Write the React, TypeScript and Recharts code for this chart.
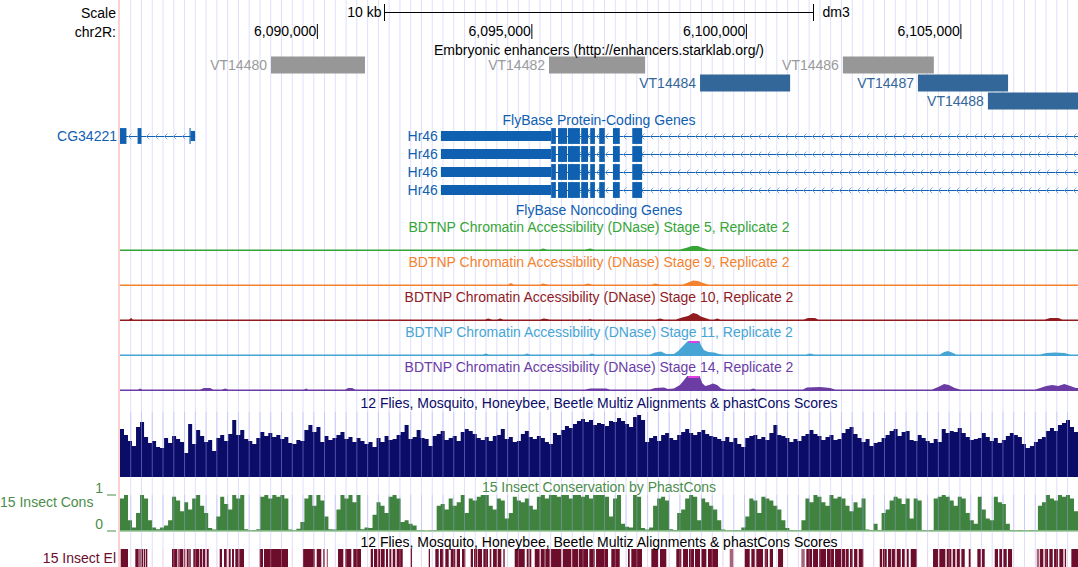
import {
  Area,
  AreaChart,
  ComposedChart,
  ReferenceArea,
  ReferenceLine,
  XAxis,
  YAxis,
} from "recharts";

// Browser window on chr2R (dm3), in base pairs
const WINDOW_START = 6085400;
const WINDOW_END = 6107730;
const WINDOW: [number, number] = [WINDOW_START, WINDOW_END];
const AXIS_DATA = [{ pos: WINDOW_START }, { pos: WINDOW_END }];

const RULER_TICKS = [6090000, 6095000, 6100000, 6105000];
const SCALE_BAR_BP = 10000;
const GRID_FIRST = 6085650;
const GRID_STEP = 251;

type Enhancer = { name: string; start: number; end: number; row: number; active: boolean };

const ENHANCERS: Enhancer[] = [
  { name: "VT14480", start: 6088920, end: 6091110, row: 0, active: false },
  { name: "VT14482", start: 6095400, end: 6097640, row: 0, active: false },
  { name: "VT14486", start: 6102250, end: 6104370, row: 0, active: false },
  { name: "VT14484", start: 6098920, end: 6101020, row: 1, active: true },
  { name: "VT14487", start: 6104000, end: 6106100, row: 1, active: true },
  { name: "VT14488", start: 6105630, end: 6107800, row: 2, active: true },
];

type Block = [number, number, "cds" | "utr"];

const CG34221_BLOCKS: Block[] = [
  [6085400, 6085550, "cds"],
  [6085810, 6085900, "cds"],
  [6087020, 6087045, "cds"],
  [6087045, 6087150, "utr"],
];

const HR46_BLOCKS: Block[] = [
  [6092880, 6095450, "utr"],
  [6095450, 6095560, "cds"],
  [6095610, 6095820, "cds"],
  [6095840, 6096120, "cds"],
  [6096150, 6096310, "cds"],
  [6096360, 6096470, "cds"],
  [6096570, 6096700, "cds"],
  [6096890, 6097050, "cds"],
  [6097340, 6097570, "cds"],
];

const GENES = [
  { name: "CG34221", row: 0, span: [6085400, 6087150], blocks: CG34221_BLOCKS },
  { name: "Hr46", row: 0, span: [6092880, 6108600], blocks: HR46_BLOCKS },
  { name: "Hr46", row: 1, span: [6092880, 6108600], blocks: HR46_BLOCKS },
  { name: "Hr46", row: 2, span: [6092880, 6108600], blocks: HR46_BLOCKS },
  { name: "Hr46", row: 3, span: [6092880, 6108600], blocks: HR46_BLOCKS },
];

// DNase signal, [position, coverage]
const STAGE5_SIGNAL: [number, number][] = [
  [6085400, 1.5], [6095190, 1.5], [6095260, 2.5], [6095350, 1.5], [6096240, 1.5],
  [6096360, 2.5], [6096450, 1.5], [6098450, 1.5], [6098590, 3], [6098730, 5],
  [6098870, 5], [6098990, 3], [6099110, 1.5], [6107730, 1.5],
];

const STAGE9_SIGNAL: [number, number][] = [
  [6085400, 1.5], [6094440, 1.5], [6094510, 3], [6094580, 1.5], [6095190, 1.5],
  [6095260, 2.5], [6095380, 1.5], [6096220, 1.5], [6096310, 2.5], [6096400, 1.5],
  [6097800, 1.5], [6097870, 2.5], [6097990, 1.5], [6098520, 1.5], [6098640, 3.5],
  [6098760, 5.5], [6098870, 5], [6098990, 3], [6099110, 1.5], [6107730, 1.5],
];

const STAGE10_SIGNAL: [number, number][] = [
  [6085400, 1.5], [6085610, 1.5], [6085660, 3], [6085700, 1.5], [6093910, 1.5],
  [6093980, 2.5], [6094070, 1.5], [6094190, 1.5], [6094260, 2.5], [6094330, 1.5],
  [6095190, 1.5], [6095280, 2.5], [6095420, 1.5], [6096310, 1.5], [6096360, 2],
  [6096400, 1.5], [6097890, 1.5], [6097990, 2.5], [6098080, 1.5], [6098360, 1.5],
  [6098500, 3.5], [6098640, 5], [6098760, 8], [6098850, 7], [6098940, 4.5],
  [6099040, 3], [6099150, 1.5], [6099250, 1.5], [6099320, 2.5], [6099390, 1.5],
  [6101340, 1.5], [6101440, 3], [6101600, 3], [6101670, 1.5], [6106960, 1.5],
  [6107080, 3], [6107270, 3], [6107360, 1.5], [6107730, 1.5],
];

const STAGE11_SIGNAL: [number, number][] = [
  [6085400, 1.5], [6093860, 1.5], [6093930, 2.5], [6094000, 1.5], [6094820, 1.5],
  [6094890, 2.5], [6094960, 1.5], [6096330, 1.5], [6096400, 2.5], [6096470, 1.5],
  [6097750, 1.5], [6097870, 3.5], [6098010, 4.5], [6098130, 2], [6098310, 2],
  [6098410, 5], [6098500, 9], [6098590, 13], [6098660, 16], [6098780, 17],
  [6098900, 16], [6098940, 11], [6099010, 6], [6099110, 4], [6099250, 3.5],
  [6099360, 2], [6099480, 1.5], [6101390, 1.5], [6101480, 2.5], [6101580, 1.5],
  [6104510, 1.5], [6104610, 4], [6104700, 5], [6104790, 3.5], [6104890, 1.5],
  [6106850, 1.5], [6106990, 3], [6107200, 3.5], [6107410, 3], [6107550, 1.5],
  [6107730, 1.5],
];

const STAGE14_SIGNAL: [number, number][] = [
  [6085400, 1.5], [6085820, 1.5], [6085870, 2.5], [6085910, 1.5], [6087270, 1.5],
  [6087360, 3], [6087500, 3], [6087570, 1.5], [6087780, 1.5], [6087850, 2.5],
  [6087920, 1.5], [6089690, 1.5], [6089740, 2.5], [6089780, 1.5], [6090650, 1.5],
  [6090720, 3], [6090810, 3], [6090880, 1.5], [6096240, 1.5], [6096360, 2.5],
  [6096730, 2.5], [6096820, 1.5], [6097750, 1.5], [6097870, 3], [6098080, 3.5],
  [6098170, 2], [6098310, 2.5], [6098450, 6], [6098550, 11], [6098640, 16],
  [6098710, 17], [6098830, 17], [6098900, 16], [6098970, 8], [6099040, 5],
  [6099130, 6], [6099220, 7.5], [6099320, 6], [6099410, 2.5], [6099530, 1.5],
  [6100090, 1.5], [6100160, 2.5], [6100230, 1.5], [6101320, 1.5], [6101410, 3.5],
  [6101720, 4], [6101950, 3], [6102070, 1.5], [6104330, 1.5], [6104470, 4],
  [6104610, 7], [6104720, 6], [6104860, 3], [6104980, 1.5], [6106730, 1.5],
  [6106850, 3], [6106990, 5], [6107130, 6], [6107270, 5], [6107410, 7],
  [6107550, 5], [6107680, 3], [6107730, 3],
];

// Multiz conservation, one value per ~93 bp bin across the window
const MULTIZ_SCORES = [
  48, 42, 36, 31, 50, 55, 40, 34, 36, 30, 29, 39, 34, 41, 38, 35, 24, 53, 33, 47,
  41, 35, 37, 26, 39, 42, 36, 43, 57, 42, 47, 38, 36, 33, 39, 45, 41, 44, 40, 42,
  38, 40, 34, 33, 37, 36, 47, 52, 45, 50, 35, 41, 37, 39, 42, 45, 38, 40, 35, 39,
  36, 33, 35, 30, 39, 35, 41, 37, 38, 42, 45, 52, 38, 40, 47, 39, 38, 31, 41, 43,
  46, 37, 39, 41, 36, 45, 48, 46, 43, 39, 37, 40, 36, 41, 42, 48, 38, 40, 35, 36,
  43, 46, 40, 38, 41, 39, 35, 33, 44, 42, 47, 51, 49, 53, 56, 58, 55, 57, 52, 54,
  53, 51, 56, 55, 59, 56, 53, 50, 60, 62, 57, 35, 39, 41, 36, 42, 44, 39, 37, 42,
  45, 48, 44, 42, 45, 47, 43, 41, 40, 38, 36, 40, 35, 39, 33, 30, 39, 41, 42, 38,
  40, 37, 44, 52, 42, 41, 39, 35, 38, 36, 41, 43, 47, 43, 41, 37, 40, 42, 37, 38,
  44, 48, 50, 43, 39, 35, 38, 31, 34, 35, 39, 42, 46, 48, 41, 45, 46, 37, 36, 42,
  39, 36, 34, 38, 35, 48, 44, 46, 45, 49, 44, 40, 37, 38, 39, 44, 40, 36, 39, 34,
  37, 41, 44, 42, 40, 33, 29, 31, 35, 38, 40, 46, 49, 46, 52, 54, 57, 50, 45, 44,
];
const MULTIZ_MAX = 65;

// phastCons scores (0-1), same bins as the multiz track
const PHASTCONS_SCORES = [
  0.9, 1, 0.3, 0.1, 0.5, 1, 0.9, 0.3, 0.1, 0.05, 0.1, 0.15, 0.3, 0.95, 0.85, 0.55, 0.8, 0.6, 0.9, 1,
  0.7, 0.5, 0.08, 0.04, 0.4, 0.95, 0.75, 0.6, 1, 0.9, 1, 0.05, 0.02, 0.03, 0.05, 0.95, 1, 0.9, 1, 0.95,
  1, 0.9, 0.04, 0.02, 0.06, 0.25, 0.9, 1, 0.7, 1, 0.85, 0.4, 0.05, 0.04, 0.6, 1, 0.9, 1, 0.8, 1,
  0.05, 0.1, 0.08, 0.45, 0.8, 0.7, 0.5, 0.95, 1, 0.9, 0.25, 0.3, 0.2, 0.15, 0.02, 0.02, 0.01, 0.02, 0.02, 0.7,
  0.75, 0.6, 0.9, 0.7, 0.8, 1, 0.5, 0.9, 0.85, 0.95, 1, 1, 0.7, 0.6, 0.9, 0.85, 0.35, 0.5, 0.95, 0.85,
  0.8, 0.9, 0.7, 0.6, 0.95, 1, 0.9, 1, 1, 0.95, 1, 1, 0.9, 1, 1, 0.95, 1, 0.9, 1, 1,
  1, 0.95, 0.4, 0.9, 1, 0.2, 0.12, 0.1, 1, 0.95, 0.08, 0.04, 0.1, 0.7, 0.9, 0.95, 0.85, 0.05, 0.03, 0.5,
  0.6, 0.9, 1, 0.95, 0.3, 0.9, 0.8, 0.7, 0.6, 0.3, 0.04, 0.02, 0.02, 0.03, 0.02, 0.1, 0.4, 0.9, 0.85, 0.5,
  0.95, 0.9, 0.85, 0.7, 0.6, 0.3, 0.08, 0.03, 0.02, 0.02, 0.3, 0.9, 0.8, 1, 0.95, 0.8, 0.7, 1, 0.9, 0.95,
  0.9, 0.7, 0.55, 0.8, 0.65, 0.9, 0.04, 0.03, 0.2, 0.03, 0.5, 0.6, 0.85, 0.95, 0.9, 0.75, 0.9, 0.35, 0.9, 0.85,
  0.03, 0.02, 0.03, 0.9, 0.95, 1, 0.95, 0.85, 0.7, 0.95, 0.9, 0.5, 0.3, 0.2, 0.95, 0.6, 0.35, 0.3, 0.95, 0.8,
  0.75, 0.2, 0.03, 0.02, 0.03, 0.02, 0.02, 0.03, 0.02, 0.7, 0.8, 1, 0.9, 0.85, 1, 0.95, 1, 0.9, 0.55, 0.7,
];

// Conserved elements, [start, end]
const CONSERVED_ELEMENTS: [number, number][] = [
  [6085416, 6085586], [6085757, 6085836], [6085897, 6085943], [6085959, 6085990], [6086006, 6086036],
  [6086612, 6086736], [6086782, 6086876], [6086892, 6086922], [6086955, 6087001], [6087015, 6087048],
  [6087109, 6087249], [6087265, 6087311], [6087328, 6087388], [6087421, 6087468], [6087724, 6087778],
  [6087824, 6087887], [6087934, 6087980], [6088011, 6088057], [6088088, 6088167], [6088181, 6088290],
  [6088656, 6088733], [6088757, 6089316], [6089666, 6089938], [6089985, 6090092], [6090139, 6090172],
  [6090482, 6090605], [6090652, 6090792], [6090838, 6091018], [6091244, 6091297], [6091321, 6091398],
  [6091414, 6091461], [6091477, 6091570], [6091600, 6091647], [6091677, 6091724], [6091757, 6091817],
  [6091850, 6091990], [6092176, 6092207], [6092596, 6092626], [6092750, 6092829], [6092859, 6092936],
  [6092983, 6093062], [6093109, 6093216], [6093249, 6093325], [6093372, 6093449], [6093575, 6093628],
  [6093652, 6093729], [6093745, 6093838], [6093869, 6093978], [6094018, 6094055], [6094095, 6094195],
  [6094211, 6094288], [6094335, 6094367], [6094600, 6094834], [6094880, 6094927], [6094941, 6094987],
  [6095067, 6095183], [6095207, 6095300], [6095314, 6095416], [6095440, 6095687], [6095720, 6095920],
  [6095936, 6096076], [6096092, 6096309], [6096340, 6096465], [6096496, 6096775], [6096852, 6097048],
  [6097241, 6097281], [6097318, 6097568], [6097785, 6097941], [6097987, 6098134], [6098367, 6098484],
  [6098524, 6098640], [6098663, 6098780], [6098803, 6098920], [6098950, 6099067], [6099106, 6099339],
  [6099962, 6100078], [6100116, 6100195], [6100232, 6100388], [6100428, 6100505], [6100545, 6100621],
  [6100738, 6100855], [6101398, 6101531], [6101554, 6101670], [6101694, 6101857], [6101880, 6102043],
  [6102067, 6102214], [6102230, 6102307], [6102323, 6102386], [6102416, 6102479], [6102510, 6102587],
  [6102619, 6102726], [6103109, 6103162], [6103179, 6103272], [6103302, 6103379], [6103395, 6103472],
  [6103505, 6103598], [6103628, 6103691], [6103738, 6103784], [6103831, 6103971], [6104351, 6104468],
  [6104498, 6104638], [6104670, 6104778], [6104810, 6104871], [6104904, 6104980], [6105011, 6105090],
  [6105183, 6105230], [6105384, 6105463], [6105493, 6105556], [6105789, 6105866], [6105896, 6105959],
  [6105990, 6106069], [6106099, 6106193], [6106845, 6106922], [6106955, 6107032], [6107062, 6107141],
  [6107172, 6107265], [6107295, 6107388], [6107421, 6107452], [6107575, 6107760],
];

const FAINT_ELEMENTS: [number, number][] = [
  [6085843, 6085897], [6086752, 6086782], [6090218, 6090248],
  [6099612, 6099696], [6101281, 6101360], [6106768, 6106829],
];

const FONT = '"Liberation Sans", Arial, Helvetica, sans-serif';
const WIDTH = 1078;
const HEIGHT = 567;
const PLOT_LEFT = 120;
const PLOT_MARGIN = { top: 0, right: 0, bottom: 0, left: PLOT_LEFT };

const GENE_BLUE = "#0f60b0";
const CHEVRON_BLUE = "#7eaadb";
const ENH_GREY = "#979797";
const ENH_BLUE = "#336699";
const NAVY = "#0b0b68";
const CONS_GREEN = "#3f833f";
const CONS_TEXT = "#4b8d4b";
const ELEMENT_RED = "#6c0d2c";
const ELEMENT_FAINT = "#a8647b";
const CLIP_MAGENTA = "#e23ee2";
const GUIDE = "#dfdffd";

const DNASE_MAX = 15;
const DNASE_TRACKS = [
  { stage: 5, color: "#35a535", signal: STAGE5_SIGNAL },
  { stage: 9, color: "#f4822e", signal: STAGE9_SIGNAL },
  { stage: 10, color: "#911b1f", signal: STAGE10_SIGNAL },
  { stage: 11, color: "#46a5d5", signal: STAGE11_SIGNAL },
  { stage: 14, color: "#6b3ca4", signal: STAGE14_SIGNAL },
];

const fmtBp = (v: number) => v.toLocaleString("en-US");

const GRID_POSITIONS: number[] = [];
for (let p = GRID_FIRST; p < WINDOW_END; p += GRID_STEP) GRID_POSITIONS.push(p);

function Frame({ top, height, children }: { top: number; height: number; children: any }) {
  return (
    <div style={{ position: "absolute", left: 0, top, width: WIDTH, height }}>{children}</div>
  );
}

// Vertical guide lines; drawn opaque behind the tracks and as a faint
// overlay across the conservation wiggles
function GuideLines({ top, height, stroke, opacity }: { top: number; height: number; stroke: string; opacity: number }) {
  return (
    <Frame top={top} height={height}>
      <ComposedChart width={WIDTH} height={height} data={AXIS_DATA} margin={PLOT_MARGIN}>
        <XAxis type="number" dataKey="pos" domain={WINDOW} allowDataOverflow hide />
        <YAxis type="number" domain={[0, 1]} allowDataOverflow hide />
        {GRID_POSITIONS.map((p) => (
          <ReferenceLine key={p} x={p} stroke={stroke} strokeOpacity={opacity} strokeWidth={1} />
        ))}
      </ComposedChart>
    </Frame>
  );
}

function Title({ y, color = "#000", children }: { y: number; color?: string; children: any }) {
  return (
    <div
      style={{
        position: "absolute",
        left: PLOT_LEFT,
        width: WIDTH - PLOT_LEFT,
        top: y - 8,
        lineHeight: "16px",
        textAlign: "center",
        whiteSpace: "nowrap",
        color,
      }}
    >
      {children}
    </div>
  );
}

function SideLabel({ y, color = "#000", left, children }: { y: number; color?: string; left?: boolean; children: any }) {
  return (
    <div
      style={{
        position: "absolute",
        left: 0,
        width: 116,
        top: y - 8,
        lineHeight: "16px",
        textAlign: left ? "left" : "right",
        whiteSpace: "nowrap",
        color,
      }}
    >
      {children}
    </div>
  );
}

function DnaseTrack({ signal, color, top }: { signal: [number, number][]; color: string; top: number }) {
  const data = signal.map(([pos, value]) => ({ pos, value }));
  const clipped = data.filter((d) => d.value > DNASE_MAX);
  return (
    <Frame top={top} height={DNASE_MAX}>
      <AreaChart width={WIDTH} height={DNASE_MAX} data={data} margin={PLOT_MARGIN}>
        <XAxis type="number" dataKey="pos" domain={WINDOW} allowDataOverflow hide />
        <YAxis type="number" domain={[0, DNASE_MAX]} allowDataOverflow hide />
        <Area
          type="linear"
          dataKey="value"
          stroke="none"
          fill={color}
          fillOpacity={1}
          dot={false}
          activeDot={false}
          isAnimationActive={false}
        />
        {clipped.length > 0 && (
          <ReferenceArea
            x1={clipped[0].pos}
            x2={clipped[clipped.length - 1].pos}
            y1={DNASE_MAX - 2}
            y2={DNASE_MAX}
            fill={CLIP_MAGENTA}
            fillOpacity={1}
            stroke="none"
          />
        )}
      </AreaChart>
    </Frame>
  );
}

function ConsTick(props: any) {
  const { y, payload } = props;
  return (
    <g>
      <text x={103} y={y - 7.5} textAnchor="end" dominantBaseline="central" fill={CONS_TEXT} fontSize={14}>
        {payload.value}
      </text>
      <line x1={107} x2={116} y1={y} y2={y} stroke={CONS_TEXT} strokeWidth={1} />
    </g>
  );
}

export default function App() {
  const center = (WINDOW_START + WINDOW_END) / 2;
  const barStart = center - SCALE_BAR_BP / 2;
  const barEnd = center + SCALE_BAR_BP / 2;

  const multizRows = MULTIZ_SCORES.map((score, bin) => ({ bin, score }));
  const phastRows = PHASTCONS_SCORES.map((score, bin) => ({ bin, score }));
  const binDomain: [number, number] = [0, MULTIZ_SCORES.length - 1];

  const numX = <XAxis type="number" dataKey="pos" domain={WINDOW} allowDataOverflow hide />;

  return (
    <div
      style={{
        position: "absolute",
        left: 0,
        top: 0,
        width: WIDTH,
        height: HEIGHT,
        background: "#fff",
        overflow: "hidden",
        fontFamily: FONT,
        fontSize: 14,
      }}
    >
      <GuideLines top={0} height={HEIGHT} stroke={GUIDE} opacity={1} />

      {/* left edge of the image window */}
      <div style={{ position: "absolute", left: 118, top: 0, width: 2, height: HEIGHT, background: "#fbd0d0" }} />

      {/* scale bar */}
      <Frame top={4} height={17}>
        <ComposedChart width={WIDTH} height={17} data={AXIS_DATA} margin={PLOT_MARGIN}>
          {numX}
          <YAxis type="number" domain={[0, 1]} allowDataOverflow hide />
          <ReferenceLine
            segment={[{ x: barStart, y: 0.5 }, { x: barEnd, y: 0.5 }]}
            stroke="#000"
            strokeWidth={1}
          />
          <ReferenceLine
            x={barStart}
            stroke="#000"
            label={{ value: "10 kb", position: "left", offset: 3, fill: "#000", fontSize: 14 }}
          />
          <ReferenceLine
            x={barEnd}
            stroke="#000"
            label={{ value: "dm3", position: "right", offset: 9, fill: "#000", fontSize: 14 }}
          />
        </ComposedChart>
      </Frame>

      {/* base position ruler */}
      <Frame top={24} height={15}>
        <ComposedChart width={WIDTH} height={15} data={AXIS_DATA} margin={PLOT_MARGIN}>
          {numX}
          <YAxis type="number" domain={[0, 1]} allowDataOverflow hide />
          {RULER_TICKS.map((t) => (
            <ReferenceLine
              key={t}
              x={t}
              stroke="#000"
              label={{ value: fmtBp(t), position: "left", offset: 1, fill: "#000", fontSize: 14 }}
            />
          ))}
        </ComposedChart>
      </Frame>

      {/* embryonic enhancers */}
      <Frame top={56} height={54}>
        <ComposedChart width={WIDTH} height={54} data={AXIS_DATA} margin={PLOT_MARGIN}>
          {numX}
          <YAxis type="number" domain={[0, 3]} reversed allowDataOverflow hide />
          {ENHANCERS.map((e) => {
            const color = e.active ? ENH_BLUE : ENH_GREY;
            return (
              <ReferenceArea
                key={e.name}
                x1={e.start}
                x2={e.end}
                y1={e.row + 0.03}
                y2={e.row + 0.97}
                fill={color}
                fillOpacity={1}
                stroke="none"
                ifOverflow="hidden"
                label={{
                  value: e.name,
                  position: "left",
                  offset: 4,
                  fill: e.active ? ENH_BLUE : "#9a9a9a",
                  fontSize: 14,
                }}
              />
            );
          })}
        </ComposedChart>
      </Frame>

      {/* FlyBase protein-coding genes */}
      <Frame top={127} height={72}>
        <ComposedChart width={WIDTH} height={72} data={AXIS_DATA} margin={PLOT_MARGIN}>
          <defs>
            <pattern id="intron-chevrons" patternUnits="userSpaceOnUse" width={9} height={18}>
              <line x1={0} x2={9} y1={9.5} y2={9.5} stroke={GENE_BLUE} strokeWidth={1} />
              <polyline points="5.5,6.5 2.5,9.5 5.5,12.5" fill="none" stroke={CHEVRON_BLUE} strokeWidth={1} />
            </pattern>
          </defs>
          {numX}
          <YAxis type="number" domain={[0, 4]} reversed allowDataOverflow hide />
          {GENES.map((g) => (
            <ReferenceArea
              key={`intron-${g.name}-${g.row}`}
              x1={g.span[0]}
              x2={g.span[1]}
              y1={g.row + 0.3}
              y2={g.row + 0.7}
              fill="url(#intron-chevrons)"
              fillOpacity={1}
              stroke="none"
              ifOverflow="hidden"
            />
          ))}
          {GENES.flatMap((g) =>
            g.blocks.map(([start, end, kind], i) => (
              <ReferenceArea
                key={`${g.name}-${g.row}-${i}`}
                x1={start}
                x2={end}
                y1={g.row + (kind === "cds" ? 0.06 : 0.22)}
                y2={g.row + (kind === "cds" ? 0.94 : 0.78)}
                fill={GENE_BLUE}
                fillOpacity={1}
                stroke="none"
                ifOverflow="hidden"
                label={
                  i === 0
                    ? { value: g.name, position: "left", offset: 3, fill: GENE_BLUE, fontSize: 14 }
                    : undefined
                }
              />
            )),
          )}
        </ComposedChart>
      </Frame>

      {/* DNase accessibility tracks */}
      {DNASE_TRACKS.map((t, i) => (
        <DnaseTrack key={t.stage} signal={t.signal} color={t.color} top={236 + i * 35} />
      ))}

      {/* multiz conservation */}
      <Frame top={412} height={MULTIZ_MAX}>
        <AreaChart width={WIDTH} height={MULTIZ_MAX} data={multizRows} margin={PLOT_MARGIN}>
          <XAxis type="number" dataKey="bin" domain={binDomain} allowDataOverflow hide />
          <YAxis type="number" domain={[0, MULTIZ_MAX]} allowDataOverflow hide />
          <Area
            type="stepAfter"
            dataKey="score"
            stroke="none"
            fill={NAVY}
            fillOpacity={1}
            dot={false}
            activeDot={false}
            isAnimationActive={false}
          />
        </AreaChart>
      </Frame>

      {/* phastCons */}
      <Frame top={479} height={54}>
        <AreaChart
          width={WIDTH}
          height={54}
          data={phastRows}
          margin={{ top: 16, right: 0, bottom: 2, left: 0 }}
        >
          <XAxis type="number" dataKey="bin" domain={binDomain} allowDataOverflow hide />
          <YAxis
            type="number"
            width={PLOT_LEFT}
            domain={[0, 1]}
            ticks={[0, 1]}
            interval={0}
            axisLine={false}
            tickLine={false}
            tick={ConsTick}
          />
          <Area
            type="stepAfter"
            dataKey="score"
            stroke="none"
            fill={CONS_GREEN}
            fillOpacity={1}
            dot={false}
            activeDot={false}
            isAnimationActive={false}
          />
          <ReferenceLine y={0} stroke="#93c393" strokeWidth={1.5} />
        </AreaChart>
      </Frame>

      {/* conserved elements */}
      <Frame top={549} height={18}>
        <ComposedChart width={WIDTH} height={18} data={AXIS_DATA} margin={PLOT_MARGIN}>
          {numX}
          <YAxis type="number" domain={[0, 1]} allowDataOverflow hide />
          {CONSERVED_ELEMENTS.map(([s, e]) => (
            <ReferenceArea key={s} x1={s} x2={e} y1={0} y2={1} fill={ELEMENT_RED} fillOpacity={1} stroke="none" ifOverflow="hidden" />
          ))}
          {FAINT_ELEMENTS.map(([s, e]) => (
            <ReferenceArea key={s} x1={s} x2={e} y1={0} y2={1} fill={ELEMENT_FAINT} fillOpacity={1} stroke="none" ifOverflow="hidden" />
          ))}
        </ComposedChart>
      </Frame>

      {/* guide lines showing through the conservation wiggles */}
      <GuideLines top={412} height={MULTIZ_MAX} stroke="rgb(170,170,255)" opacity={0.45} />
      <GuideLines top={495} height={36} stroke="rgb(170,170,255)" opacity={0.4} />
      <GuideLines top={549} height={18} stroke="rgb(255,200,220)" opacity={0.35} />

      <SideLabel y={12.5}>Scale</SideLabel>
      <SideLabel y={31.5}>chr2R:</SideLabel>
      <SideLabel y={501.5} color={CONS_TEXT} left>15 Insect Cons</SideLabel>
      <SideLabel y={558} color={ELEMENT_RED}>15 Insect El</SideLabel>

      <Title y={49.5}>Embryonic enhancers (http://enhancers.starklab.org/)</Title>
      <Title y={120} color={GENE_BLUE}>FlyBase Protein-Coding Genes</Title>
      <Title y={209.5} color={GENE_BLUE}>FlyBase Noncoding Genes</Title>
      {DNASE_TRACKS.map((t, i) => (
        <Title key={t.stage} y={226.7 + i * 35} color={t.color}>
          {`BDTNP Chromatin Accessibility (DNase) Stage ${t.stage}, Replicate 2`}
        </Title>
      ))}
      <Title y={403} color={NAVY}>12 Flies, Mosquito, Honeybee, Beetle Multiz Alignments &amp; phastCons Scores</Title>
      <Title y={487.3} color={CONS_TEXT}>15 Insect Conservation by PhastCons</Title>
      <Title y={541.7}>12 Flies, Mosquito, Honeybee, Beetle Multiz Alignments &amp; phastCons Scores</Title>
    </div>
  );
}
